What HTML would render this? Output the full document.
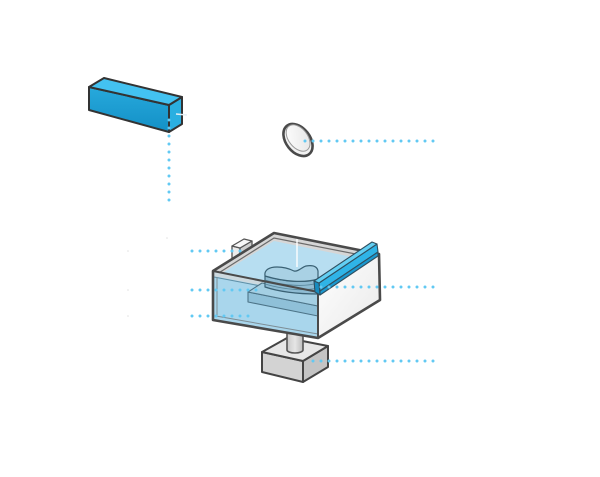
<!DOCTYPE html>
<html>
<head>
<meta charset="utf-8">
<style>
  html,body{margin:0;padding:0;background:#ffffff;}
  svg{display:block;}
</style>
</head>
<body>
<svg width="600" height="477" viewBox="0 0 600 477" xmlns="http://www.w3.org/2000/svg">
  <defs>
    <linearGradient id="bluefront" x1="0" y1="0" x2="0" y2="1">
      <stop offset="0" stop-color="#27a9dc"/>
      <stop offset="1" stop-color="#1390c6"/>
    </linearGradient>
    <linearGradient id="rightface" x1="0" y1="0" x2="1" y2="1">
      <stop offset="0" stop-color="#ffffff"/>
      <stop offset="1" stop-color="#e9e9e9"/>
    </linearGradient>
    <linearGradient id="col" x1="0" y1="0" x2="1" y2="0">
      <stop offset="0" stop-color="#c9c9c9"/>
      <stop offset="0.5" stop-color="#e6e6e6"/>
      <stop offset="1" stop-color="#bdbdbd"/>
    </linearGradient>
    <linearGradient id="lens" x1="0" y1="0" x2="1" y2="1">
      <stop offset="0" stop-color="#ffffff"/>
      <stop offset="1" stop-color="#e4e4e4"/>
    </linearGradient>
  </defs>

  <rect width="600" height="477" fill="#ffffff"/>

  <!-- faint specks -->
  <g fill="#e2e2e2">
    <circle cx="167" cy="238" r="0.8"/>
    <circle cx="128" cy="251" r="0.8"/>
    <circle cx="128" cy="290" r="0.8"/>
    <circle cx="128" cy="316" r="0.8"/>
  </g>

  <!-- Blue bar (top-left) -->
  <g stroke="#333" stroke-width="2" stroke-linejoin="round">
    <polygon points="89,87 169,105 169,132 89,110" fill="url(#bluefront)"/>
    <polygon points="169,105 182,97 182,124 169,132" fill="#2aafe1"/>
    <polygon points="89,87 104,78 182,97 169,105" fill="#43c2f1"/>
  </g>
  <line x1="176" y1="114" x2="187" y2="115" stroke="#e4eef4" stroke-width="1.5"/>

  <!-- Lens -->
  <g transform="translate(298,140) rotate(-38)">
    <ellipse cx="0" cy="0" rx="12" ry="18" fill="#f2f2f2" stroke="#4a4a4a" stroke-width="2.6"/>
    <ellipse cx="1.3" cy="-1.5" rx="9.5" ry="15" fill="url(#lens)" stroke="#9a9a9a" stroke-width="1"/>
  </g>

  <!-- Base box -->
  <g stroke="#444" stroke-width="2" stroke-linejoin="round">
    <polygon points="262,352 303,361 303,382 262,372" fill="#d3d3d3"/>
    <polygon points="303,361 328,346 328,367 303,382" fill="#c4c4c4"/>
    <polygon points="262,352 287,338 328,346 303,361" fill="#e7e7e7"/>
  </g>
  <!-- column -->
  <path d="M287,326 L287,350 A8,3 0 0 0 303,350 L303,326 Z" fill="url(#col)" stroke="#555" stroke-width="1.6"/>

  <!-- Tank interior walls / opening -->
  <polygon points="213,271 274,233 379,254 318,292" fill="#d6d6d6"/>
  <!-- water surface -->
  <polygon points="216,277 274,241 377,262 318,297" fill="#b7def1"/>
  <!-- inner rim line -->
  <polyline points="217,274 274,238 376,258" fill="none" stroke="#6a6a6a" stroke-width="1.2"/>

  <!-- notch on rim -->
  <g stroke="#555" stroke-width="1.3" stroke-linejoin="round">
    <polygon points="232,246 240,248 240,254 232,259" fill="#ececec"/>
    <polygon points="240,248 252,241 252,247 240,254" fill="#cfcfcf"/>
    <polygon points="232,246 244,239 252,241 240,248" fill="#f7f7f7"/>
  </g>

  <!-- front face (water) -->
  <polygon points="213,276 318,296 318,338 213,320" fill="#a9d6ec"/>
  <polygon points="213,271 318,292 318,296 213,276" fill="#cdd9df"/>
  <line x1="214" y1="277" x2="318" y2="297" stroke="#5f8fa6" stroke-width="1"/>

  <!-- slab -->
  <g stroke="#4d7488" stroke-width="1.1" stroke-linejoin="round">
    <polygon points="248,292 318,306 318,316 248,302" fill="#8fc0d8"/>
    <polygon points="248,292 262,283 332,297 318,306" fill="#a4cfe3"/>
  </g>

  <!-- part -->
  <g stroke="#3a6174" stroke-width="1.2" stroke-linejoin="round">
    <path d="M265,276 L265,287 C280,292 300,294 318,294 L318,279 C305,283 285,282 265,276 Z" fill="#8fbcd3"/>
    <path d="M265,276 C264,270 269,267 277,267 C285,267 290,269 294,271 C298,272 302,267 306,266 C312,265 317,266 318,271 L318,279 C305,283 285,282 265,276 Z" fill="#a9d1e4"/>
  </g>
  <g fill="none" stroke="#58869b" stroke-width="0.9">
    <path d="M265,280 C285,286 305,287 318,283"/>
    <path d="M265,284 C285,290 305,291 318,288"/>
  </g>

  <!-- light beam -->
  <line x1="297" y1="233" x2="297" y2="267" stroke="#ffffff" stroke-width="1.6" opacity="0.85"/>

  <!-- right face -->
  <polygon points="318,292 379,254 380,300 318,338" fill="url(#rightface)"/>

  <!-- glass thickness lines -->
  <line x1="217" y1="277" x2="217" y2="317" stroke="#7d8d95" stroke-width="1"/>
  <line x1="216" y1="316" x2="318" y2="334" stroke="#7d8d95" stroke-width="1"/>

  <!-- tank outline -->
  <g fill="none" stroke="#4a4a4a" stroke-linejoin="round" stroke-linecap="round">
    <path d="M213,320 L213,271 L274,233 L379,254 L380,300 L318,338 Z" stroke-width="2.6"/>
    <path d="M213,271 L318,292 L379,254" stroke-width="2"/>
    <path d="M318,292 L318,338" stroke-width="2"/>
  </g>

  <!-- rail -->
  <g stroke="#2f4f60" stroke-width="1.1" stroke-linejoin="round">
    <polygon points="319,283 377,244 378,252 320,291" fill="#2fb4e7"/>
    <polygon points="320,291 378,252 378,256 320,295" fill="#1a98cf"/>
    <polygon points="314,281 319,283 320,295 315,292" fill="#168cc0"/>
    <polygon points="314,281 372,242 377,244 319,283" fill="#63cff3"/>
  </g>

  <!-- dotted leader lines -->
  <g stroke="#62c9f3" stroke-width="3" stroke-linecap="round" stroke-dasharray="0 8" fill="none">
    <line x1="169" y1="120" x2="169" y2="201"/>
    <line x1="305" y1="141" x2="436" y2="141"/>
    <line x1="192" y1="251" x2="243" y2="251"/>
    <line x1="192" y1="290" x2="259" y2="290"/>
    <line x1="192" y1="316" x2="251" y2="316"/>
    <line x1="321" y1="287" x2="436" y2="287"/>
    <line x1="313" y1="361" x2="436" y2="361"/>
  </g>
</svg>
</body>
</html>
